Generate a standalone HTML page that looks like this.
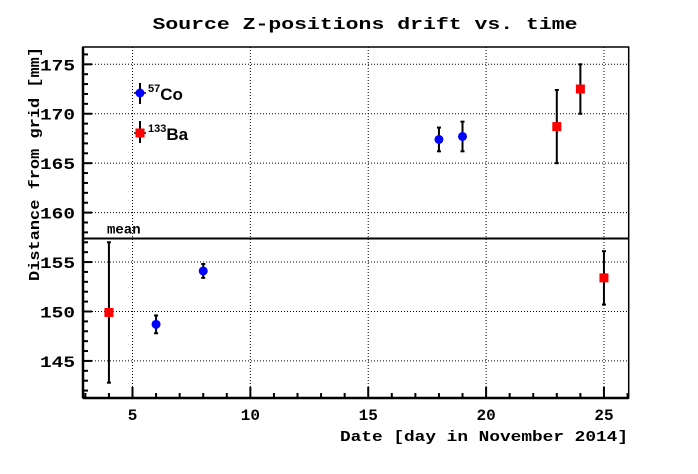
<!DOCTYPE html>
<html><head><meta charset="utf-8"><style>
html,body{margin:0;padding:0;background:#fff;}
svg{display:block;}
text{font-family:"Liberation Mono",monospace;font-weight:bold;fill:#000;}
</style></head><body>
<svg id="chart" width="698" height="474" viewBox="0 0 698 474" xmlns="http://www.w3.org/2000/svg">
<rect x="0" y="0" width="698" height="474" fill="#fff"/>
<text x="365" y="29" text-anchor="middle" font-size="17" textLength="425" lengthAdjust="spacingAndGlyphs">Source Z-positions drift vs. time</text>
<g id="grid"></g>
<g id="axes"></g>
<g id="marks"></g>
<text x="628" y="441" text-anchor="end" font-size="15" textLength="288" lengthAdjust="spacingAndGlyphs">Date [day in November 2014]</text>
<text transform="translate(39,47) rotate(-90)" x="0" y="0" text-anchor="end" font-size="15" textLength="234" lengthAdjust="spacingAndGlyphs">Distance from grid [mm]</text>
</svg>
<script>
const coDays=[6,8,18,19];
const coVals=[148.7,154.1,167.4,167.7];
const coErrs=[0.9,0.7,1.2,1.5];
const baDays=[4,23,24,25];
const baVals=[149.9,168.7,172.5,153.4];
const baErrs=[7.1,3.7,2.5,2.7];
const meanVal=157.38;
const xTicks=[5,10,15,20,25];
const yTicks=[145,150,155,160,165,170,175];

const L=83,R=628.7,T=47,B=398;
const xMin=2.9,xMax=26.05,yMin=141.25,yMax=176.75;
const X=v=>L+(v-xMin)/(xMax-xMin)*(R-L);
const Y=v=>B-(v-yMin)/(yMax-yMin)*(B-T);
const NS="http://www.w3.org/2000/svg";
function mk(tag,attrs,parent){const e=document.createElementNS(NS,tag);for(const k in attrs)e.setAttribute(k,attrs[k]);parent.appendChild(e);return e;}
const grid=document.getElementById('grid'),axes=document.getElementById('axes'),marks=document.getElementById('marks');

xTicks.forEach(t=>{
  const g=mk('line',{x1:X(t),x2:X(t),y1:T,y2:B,stroke:'#000','stroke-width':1,'stroke-dasharray':'1,2'},grid);
  
  
  const lb=mk('text',{x:X(t),y:B+22,'text-anchor':'middle','font-size':'16'},axes);
  lb.textContent=t;
  
  
});
yTicks.forEach(t=>{
  const g=mk('line',{x1:L,x2:R,y1:Y(t),y2:Y(t),stroke:'#000','stroke-width':1,'stroke-dasharray':'1,2'},grid);
  
  
  const lb=mk('text',{x:L-8,y:Y(t)+6,'text-anchor':'end','font-size':'16',textLength:35,lengthAdjust:'spacingAndGlyphs'},axes);
  lb.textContent=t;
  
  
});
for(let v=3;v<=26;v++){
  const big=v%5===0;
  const tk=mk('line',{x1:X(v),x2:X(v),y1:B,y2:B-(big?11:5),stroke:'#000','stroke-width':2},axes);
  
  
}
for(let v=142;v<=176;v++){
  const big=v%5===0;
  const tk=mk('line',{x1:L,x2:L+(big?9:5),y1:Y(v),y2:Y(v),stroke:'#000','stroke-width':2},axes);
  
  
}
const fr=mk('rect',{x:L,y:T,width:R-L,height:B-T,fill:'none',stroke:'#000','stroke-width':1.5},axes);


const fx=mk('line',{x1:L,x2:R,y1:B,y2:B,stroke:'#000','stroke-width':2.5},axes);


const fy=mk('line',{x1:L,x2:L,y1:T,y2:B,stroke:'#000','stroke-width':2.5},axes);



const ml=mk('line',{x1:L,x2:R,y1:Y(meanVal),y2:Y(meanVal),stroke:'#000','stroke-width':2},marks);


const mt=mk('text',{x:107,y:Y(meanVal)-5,'font-size':'14'},marks);
mt.textContent='mean';



function errbar(x,v,e){
  const g=mk('g',{},marks);
  mk('line',{x1:X(x),x2:X(x),y1:Y(v+e),y2:Y(v-e),stroke:'#000','stroke-width':2},g);
  mk('line',{x1:X(x)-2,x2:X(x)+2,y1:Y(v+e),y2:Y(v+e),stroke:'#000','stroke-width':2},g);
  mk('line',{x1:X(x)-2,x2:X(x)+2,y1:Y(v-e),y2:Y(v-e),stroke:'#000','stroke-width':2},g);
  return g;
}
coDays.forEach((d,i)=>{
  const g=errbar(d,coVals[i],coErrs[i]);
  
  
  const c=mk('circle',{cx:X(d),cy:Y(coVals[i]),r:4.5,fill:'#0000ff'},marks);
  
  
});
baDays.forEach((d,i)=>{
  const g=errbar(d,baVals[i],baErrs[i]);
  
  
  const r=mk('rect',{x:X(d)-4.5,y:Y(baVals[i])-4.5,width:9,height:9,fill:'#ff0000'},marks);
  
  
});

// legend
const lx=140;
const lg1=mk('g',{},marks);


mk('line',{x1:lx,x2:lx,y1:83,y2:104,stroke:'#000','stroke-width':2},lg1);
mk('line',{x1:lx-6,x2:lx+6,y1:93,y2:93,stroke:'#000','stroke-width':1.5},lg1);
mk('circle',{cx:lx,cy:93,r:4.5,fill:'#0000ff'},lg1);
const t1=mk('text',{x:148,y:100,'font-size':'17',style:'font-family:"Liberation Sans",sans-serif'},lg1);
t1.innerHTML='<tspan font-size="11" dy="-8">57</tspan><tspan dy="8">Co</tspan>';
const lg2=mk('g',{},marks);


mk('line',{x1:lx,x2:lx,y1:121,y2:143,stroke:'#000','stroke-width':2},lg2);
mk('line',{x1:lx-6,x2:lx+6,y1:133,y2:133,stroke:'#000','stroke-width':1.5},lg2);
mk('rect',{x:lx-4.5,y:128.5,width:9,height:9,fill:'#ff0000'},lg2);
const t2=mk('text',{x:148,y:140,'font-size':'17',style:'font-family:"Liberation Sans",sans-serif'},lg2);
t2.innerHTML='<tspan font-size="11" dy="-8">133</tspan><tspan dy="8">Ba</tspan>';
</script>
</body></html>
